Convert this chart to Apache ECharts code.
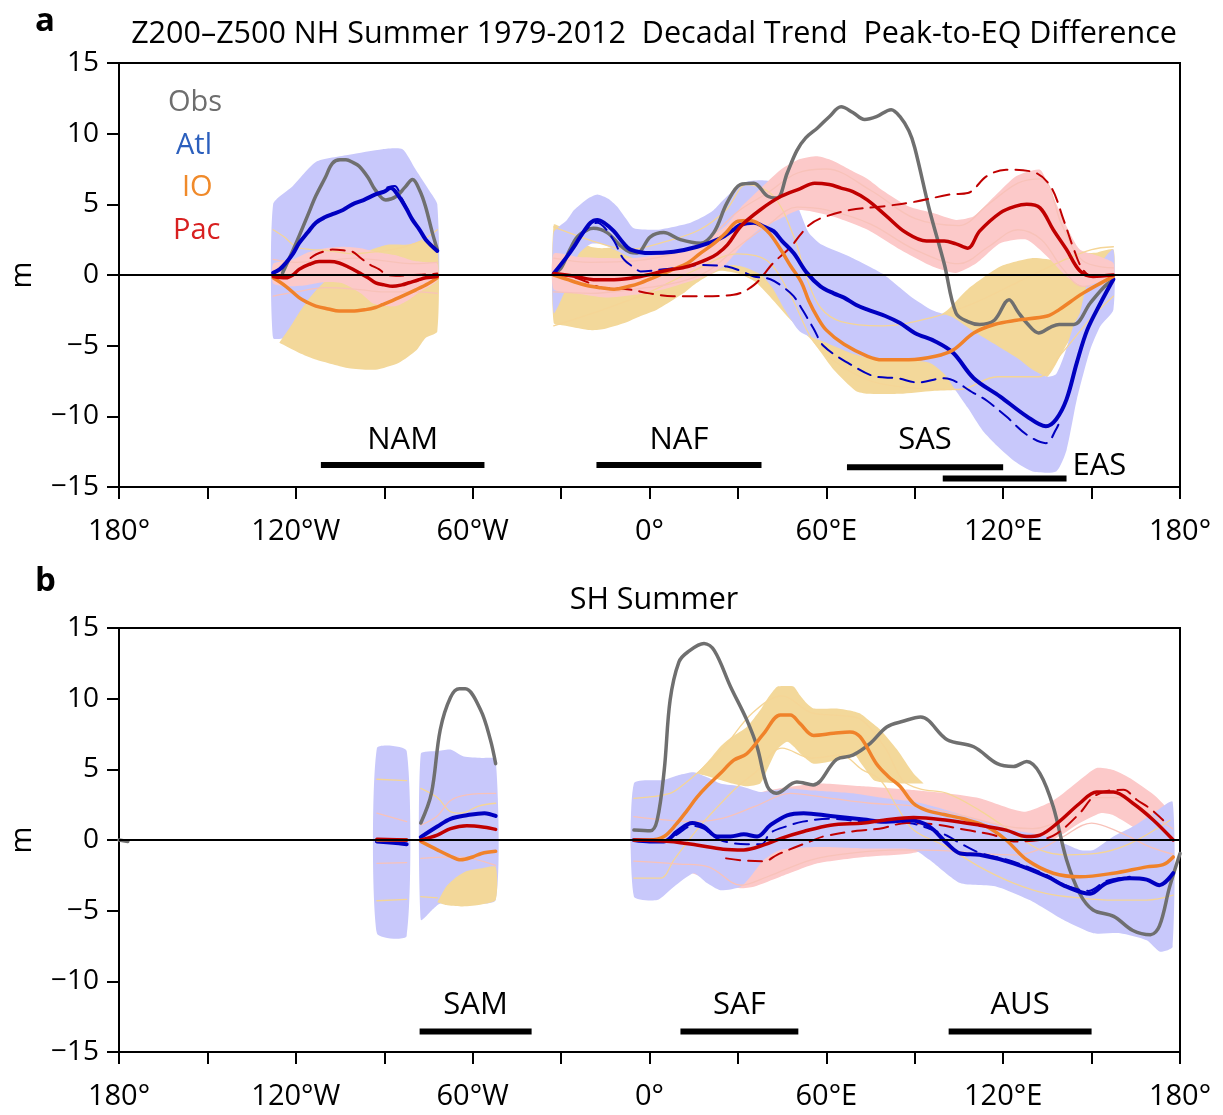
<!DOCTYPE html>
<html>
<head>
<meta charset="utf-8">
<title>Z200–Z500 decadal trend, peak-to-EQ difference</title>
<script src="https://cdn.jsdelivr.net/npm/echarts@6/dist/echarts.min.js"></script>
<style>
  html, body { margin: 0; padding: 0; background: #fff; }
  #chart { width: 1223px; height: 1115px; }
</style>
</head>
<body>
<div id="chart"></div>
<script>
// ---------- data (lon in degrees, value in m) ----------
const xTickLabels = { '-180': '180°', '-120': '120°W', '-60': '60°W', '0': '0°', '60': '60°E', '120': '120°E', '180': '180°' };
const yTicks = [-15, -10, -5, 0, 5, 10, 15];

// panel a: NH summer  (each entry is one continuous piece of the curve)
const obsA = [
  [[-124.5,0.15],[-121.5,1.5],[-118.9,2.75],[-116,4.2],[-113.2,5.6],[-110,6.9],[-107.6,7.9],[-105,8.15],[-103,8.15],[-100.5,7.95],[-98.5,7.7],[-95.5,6.9],[-93,6.0],[-89.5,5.3],[-86,5.55],[-83,6.2],[-80.4,6.75],[-78,6.0],[-76,4.85],[-73.7,3.0],[-72,1.8]],
  [[-32.5,0.1],[-30,0.5],[-27,1.8],[-24.5,2.7],[-21,3.2],[-19,3.3],[-14.4,3.0],[-10,2.1],[-6.5,1.6],[-4.2,1.55],[0.3,2.7],[4.8,3.0],[10.5,2.5],[17.3,2.25],[21.8,3.0],[26.3,5.1],[30.8,6.4],[35.4,6.5],[39.9,5.6],[43.3,5.45],[46.7,7.2],[50,8.8],[53,9.7],[57,10.4],[61,11.2],[65,11.9],[69,11.5],[73,11.0],[77,11.2],[82,11.7],[85,11.2],[88,10.2],[90,9.0],[95,4.6],[100,0.8],[104,-2.7],[108,-3.3],[112,-3.5],[117,-3.2],[122,-1.75],[125,-2.6],[128,-3.4],[132,-4.1],[136,-3.7],[139,-3.5],[144,-3.5],[149.5,-2.0],[154,-0.9],[157.4,-0.3]]
];
const atlA = [
  [[-127.7,0.15],[-125.5,0.4],[-123.4,0.85],[-121,1.5],[-118.9,2.25],[-116,3.0],[-113.2,3.7],[-110,4.1],[-107.6,4.3],[-104,4.6],[-100.8,5.0],[-97,5.3],[-93,5.7],[-90,5.9],[-87.8,6.15],[-85,5.55],[-82.5,4.7],[-80.4,3.9],[-78,3.2],[-75.9,2.5],[-72,1.7]],
  [[-32.5,0.1],[-28,1.3],[-25.6,2.0],[-23.5,2.7],[-20,3.7],[-17.7,3.9],[-15.5,3.7],[-12.1,3.1],[-9,2.3],[-6.4,1.8],[0.3,1.55],[8.2,1.65],[16.2,2.0],[24.1,2.6],[28.5,3.2],[30.8,3.55],[35.4,3.7],[39,3.4],[42.1,3.1],[45,2.4],[48.9,1.55],[53.4,0.15],[58,-0.8],[62.5,-1.3],[66,-1.6],[70,-2.1],[74,-2.45],[80,-2.9],[85,-3.4],[90,-4.1],[97,-4.7],[103,-5.5],[110,-7.3],[119,-8.6],[128,-10.0],[134.5,-10.7],[138,-10.2],[141.5,-8.8],[145,-6.2],[148.5,-3.9],[153,-2.0],[157.4,-0.3]]
];
const atlDashA = [
  [[-89,6.2],[-86.5,6.3],[-84,5.4],[-81,4.2]],
  [[-32.5,0.1],[-28,1.3],[-23.5,2.7],[-20,3.5],[-17.7,3.7],[-15,3.3],[-12,2.4],[-8.7,1.1],[-5,0.5],[-3,0.25],[4.8,0.4],[10.5,0.55],[17.3,0.7],[26.3,0.6],[32,0.2],[35.4,-0.1],[41,-0.3],[45,-0.8],[48.9,-1.5],[52,-2.5],[55.7,-3.8],[59,-5.0],[68,-6.3],[77,-7.2],[84,-7.3],[91,-7.6],[100,-7.3],[110,-8.35],[114.5,-8.9],[121,-10.0],[128,-11.3],[134.5,-11.9],[138,-10.9],[139.5,-10.2]]
];
const ioA = [
  [[-127.7,-0.2],[-123.4,-0.8],[-118.9,-1.6],[-116,-1.95],[-113.2,-2.2],[-109,-2.4],[-105.3,-2.55],[-101,-2.55],[-96.3,-2.45],[-93,-2.3],[-90.6,-2.1],[-85,-1.6],[-79.3,-1.05],[-75,-0.6],[-72,-0.2]],
  [[-32.5,0],[-28,-0.3],[-24.5,-0.55],[-20,-0.8],[-16.5,-0.9],[-12,-1.0],[-7,-0.8],[-3,-0.55],[3.5,0],[8,0.4],[13,0.85],[17,1.5],[22,2.25],[26,3.0],[30,3.8],[34,3.85],[40,3.1],[44.5,1.8],[48,0.6],[51.5,-0.5],[54,-1.8],[57,-3.0],[60,-3.9],[66,-4.9],[74,-5.75],[79,-6.0],[88,-6.0],[97,-5.75],[103,-5.3],[110,-4.1],[117,-3.5],[124.5,-3.2],[135,-2.9],[139,-2.45],[147,-1.3],[157.4,-0.1]]
];
const pacA = [
  [[-127.7,-0.1],[-123.4,-0.2],[-121,0.0],[-118.9,0.4],[-115.5,0.75],[-112.1,0.95],[-108.5,0.95],[-105.3,0.85],[-102,0.55],[-98.5,0.15],[-95.5,-0.2],[-92.9,-0.55],[-90,-0.7],[-87.2,-0.8],[-84,-0.7],[-81.6,-0.55],[-78.5,-0.35],[-75.9,-0.2],[-72,-0.1]],
  [[-32.5,0.1],[-25,-0.1],[-19,-0.33],[-12,-0.33],[-3,-0.1],[6,0.33],[13,0.6],[19.5,1.1],[23,1.5],[26.5,2.15],[31,3.45],[37.5,4.6],[44.5,5.55],[51,6.1],[56,6.5],[61,6.4],[65,6.15],[69,5.9],[74,5.3],[80.5,4.15],[87,3.0],[94,2.4],[100,2.4],[104,2.2],[108,1.9],[112,3.1],[119,4.4],[124,4.85],[128,5.0],[132.5,4.75],[137,3.2],[141.5,1.8],[146,0.3],[150.5,-0.1],[157.4,0]]
];
const pacDashA = [
  [[-115,1.2],[-113.2,1.45],[-110,1.7],[-107.6,1.8],[-104,1.75],[-100.8,1.65],[-98,1.2],[-95,0.75],[-91.7,0.4],[-89.5,0.05],[-86,-0.05],[-80,0.0],[-75,0.05],[-72,0.1]],
  [[-32.5,0.1],[-25,-0.2],[-20,-0.6],[-16.5,-0.9],[-7.5,-1.0],[0,-1.3],[8,-1.5],[17,-1.5],[28.5,-1.4],[35.5,-0.7],[42,0.85],[48,2.0],[51,2.8],[54,3.5],[58,4.0],[68,4.6],[79,4.85],[90.5,5.2],[102,5.7],[108,5.8],[114.5,7.0],[121,7.45],[130,7.3],[136,6.3],[140.5,3.9],[144,1.8],[147,0.4],[150.5,-0.1],[157.4,0]]
];
// spreads: upper and lower edges of each shaded range
const atlSpreadA = [
  { hi: [[-127.7,5.0],[-121,6.3],[-113.2,8.0],[-101.9,8.5],[-90.6,8.9],[-83.8,8.9],[-79.3,7.45],[-74.8,6.0],[-72,5.0]],
    lo: [[-127.7,-4.45],[-123,-4.4],[-110,-3.0],[-95,-2.0],[-80,-1.8],[-72,-1.75]] },
  { hi: [[-32.5,3.0],[-28,3.9],[-25.6,4.6],[-21,5.4],[-17.7,5.7],[-14,5.4],[-11,4.85],[-8,4.0],[-5.3,3.3],[2.6,3.2],[8,3.4],[13.9,3.7],[18,4.1],[21.8,4.6],[25,5.3],[28.6,6.0],[33.1,6.6],[38,6.7],[42.1,6.6],[46,6.3],[49,5.5],[51,4.5],[54,3.0],[58,2.2],[68,1.3],[79,0.1],[88.5,-1.5],[96,-2.5],[103,-3.0],[110,-4.0],[118,-5.0],[125,-5.9],[130,-6.7],[135,-7.2],[138,-7.0],[141,-5.5],[144,-3.5],[146,-2.7],[148.5,-0.6],[153,0.85],[157.4,1.8]],
    lo: [[-32.5,-2.7],[-28,-0.8],[-24,1.5],[-20,2.2],[-16,2.2],[-12,1.8],[-8,1.4],[-2,0.9],[5,0.5],[12,0.2],[18,0.1],[23,0.4],[28,0.7],[33,0.5],[38,0.0],[42,-1.0],[46,-2.5],[51,-4.0],[60,-4.8],[68,-5.5],[75,-5.9],[85,-6.0],[95,-6.2],[100,-7.0],[104,-8.2],[108,-9.4],[113,-11.0],[118,-12.1],[124,-13.2],[130,-13.9],[138,-13.9],[141.5,-12.4],[145,-8.8],[149.5,-5.3],[153,-3.6],[157.4,-2.45]] }
];
const ioSpreadA = [
  { hi: [[-125.6,-4.8],[-122,-3.7],[-119,-2.7],[-116,-1.8],[-113,-1.05],[-110,-0.4],[-107.5,0.15],[-104,0.7],[-101,1.2],[-97,1.6],[-93,1.9],[-88.4,2.15],[-81.6,2.15],[-77,2.4],[-72,2.0]],
    lo: [[-125.6,-4.8],[-119,-5.5],[-113,-6.0],[-102,-6.6],[-93,-6.7],[-85,-6.2],[-79,-5.3],[-76,-4.45],[-72,-4.0]] },
  { hi: [[-32.5,3.55],[-28,3.1],[-24,2.4],[-20,2.0],[-16,1.9],[-10,2.0],[0,2.4],[10,3.2],[18,4.0],[24,4.4],[28,4.8],[33,5.0],[38,4.4],[43,3.0],[48,0.5],[51,-1.5],[60,-2.5],[70,-3.0],[80,-3.2],[90,-3.2],[97,-3.0],[101,-2.5],[108,-1.0],[119,0.6],[130,1.2],[139,1.05],[146,1.5],[152,1.6],[157.4,1.8]],
    lo: [[-32.5,-3.4],[-28,-3.6],[-20,-3.9],[-15,-3.8],[-8.5,-3.4],[-3,-2.9],[2.5,-2.45],[7,-1.9],[11.5,-1.3],[15,-0.7],[19.5,-0.1],[24,0.3],[30,0.1],[36,-0.5],[42,-1.8],[48,-3.2],[55,-4.6],[62.5,-6.7],[70,-8.2],[74,-8.4],[85,-8.4],[96,-8.2],[104,-8.1],[110,-7.5],[121,-7.05],[130,-6.8],[135,-7.2],[140.5,-5.3],[146,-3.4],[153,-1.0],[157.4,-0.1]] }
];
const pacSpreadA = [
  { hi: [[-127.7,0.8],[-122,1.0],[-116,1.6],[-110,1.9],[-104,2.0],[-98,1.9],[-92,1.6],[-86,1.4],[-80,1.0],[-76,0.9],[-72,0.8]],
    lo: [[-127.7,-0.6],[-122,-0.8],[-116,-0.7],[-110,-0.5],[-104,-0.6],[-98,-1.3],[-94,-2.0],[-90,-2.2],[-86,-2.2],[-82,-1.8],[-78,-1.2],[-72,-0.4]] },
  { hi: [[-32.5,1.5],[-25,1.3],[-15,1.2],[-5,1.2],[5,1.5],[13,1.9],[20,2.6],[26,3.5],[31,4.8],[37,6.0],[44.5,7.45],[51,8.2],[57,8.4],[62,8.1],[68,7.45],[74,6.8],[79,6.0],[88,4.85],[96,4.4],[104,3.9],[110,4.15],[117,5.55],[124.5,7.0],[132.5,7.45],[136,6.0],[141.5,3.45],[146,1.8],[153,1.3],[157.4,0.85]],
    lo: [[-32.5,-1.0],[-25,-1.3],[-15,-1.6],[-5,-1.4],[5,-1.0],[13,-0.5],[20,0.0],[26,0.8],[31,2.0],[37,3.2],[44.5,4.0],[51,4.6],[62,4.15],[74,3.2],[85,1.8],[96,0.6],[104,0.15],[111,0.85],[119,2.25],[128,2.5],[135,1.3],[141.5,-0.1],[147,-0.8],[152,-0.55],[157.4,-0.33]] }
];
// thin pale member curves
const ioThinA = [
  [[-127.7,3.2],[-124,2.7],[-120,2.0],[-115,1.8],[-110,1.75],[-105,1.6],[-100,1.5],[-95,1.6],[-90,1.7],[-85,1.9],[-80,2.2],[-76,2.6],[-72,3.2]],
  [[-32.5,3.4],[-30,3.2],[-17,2.25],[-7.5,1.8],[6,2.4],[17,3.2],[26,4.6],[33,6.4],[42,5.6],[49,2.7],[53.5,-0.3],[58,-2.3],[65,-3.3],[79,-3.6],[96,-3.0],[110,-2.0],[125,-0.5],[140,1.0],[150,1.8],[157.4,2.0]],
  [[-32.5,-3.6],[-15,-2.4],[0,-1.2],[15,0.3],[30,1.5],[40,1.0],[48,-1.5],[55,-4.5],[62,-6.0],[75,-7.5],[90,-8.0],[105,-8.1],[118,-7.2],[132,-7.2],[140,-5.5],[150,-3.0],[157.4,-1.5]]
];
const pacThinA = [
  [[-127.7,1.1],[-120,0.9],[-110,1.0],[-100,1.2],[-90,1.0],[-80,0.8],[-72,0.9]],
  [[-127.7,-1.5],[-120,-1.2],[-110,-0.9],[-100,-1.0],[-90,-1.2],[-80,-1.2],[-72,-1.3]],
  [[-32.5,1.2],[-20,0.9],[-5,1.0],[10,1.6],[20,2.6],[30,4.5],[40,5.8],[50,7.2],[60,7.5],[75,6.0],[90,4.0],[105,3.5],[115,5.0],[125,6.5],[133,6.8],[140,3.5],[147,1.0],[157.4,0.5]],
  [[-32.5,-1.2],[-20,-1.3],[-5,-1.0],[10,-0.5],[20,0.3],[30,2.0],[40,3.5],[50,4.8],[60,4.6],[75,3.6],[90,1.8],[105,0.8],[115,2.0],[125,3.2],[133,2.5],[140,0.5],[147,-0.8],[157.4,-0.6]]
];

// panel b: SH summer
const obsB = [
  [[-180,0],[-177,-0.1]],
  [[-77.6,1.2],[-74,3.3],[-71,7.8],[-67.5,10.1],[-64.5,10.7],[-62.5,10.7],[-57.3,9.2],[-54,7.1],[-52.2,5.4]],
  [[-5.3,0.7],[0.3,0.65],[2.6,1.4],[5,4.95],[7,9.9],[10,12.6],[13,13.3],[18.5,13.9],[22,13.4],[27.5,10.85],[33,8.5],[36.5,6.6],[40,3.8],[43,3.3],[50,4.1],[55.5,3.9],[63.5,5.7],[69,6.0],[75,6.85],[80.5,8.0],[86,8.4],[92,8.7],[101,7.1],[110,6.6],[118,5.4],[123.5,5.2],[128,5.55],[132.5,4.7],[137,2.35],[141.5,-1.4],[146,-3.8],[150.5,-4.95],[157.5,-5.4],[164,-6.4],[170,-6.7],[173,-6.1],[176.5,-3.3],[180,-0.95]]
];
const atlB = [
  [[-92.5,-0.1],[-87,-0.2],[-82.4,-0.3]],
  [[-77.6,0.2],[-72,0.95],[-67.5,1.5],[-62,1.75],[-56,1.9],[-52.2,1.7]],
  [[-5.3,0],[0,-0.1],[4.9,-0.1],[9.4,0.6],[14.5,1.2],[18.4,0.95],[23,0.25],[27.5,0.25],[32,0.4],[36.5,0.25],[41,1.05],[46.7,1.75],[52.3,1.9],[61.4,1.7],[72.7,1.45],[79.4,1.3],[88.5,1.4],[95,0.95],[101,-0.25],[105.5,-0.95],[112,-1.05],[123.5,-1.65],[135,-2.6],[141.5,-3.3],[149.5,-3.8],[155,-3.05],[163,-2.7],[168.7,-2.8],[173,-3.2],[177.7,-2.35]]
];
const atlDashB = [
  [[-5.3,0],[5,-0.1],[9.4,0.4],[14.5,1.0],[18.4,0.8],[23,0.1],[27.5,-0.2],[33,-0.3],[38,-0.3],[41,0.5],[47,1.0],[52,1.3],[61,1.5],[73,1.3],[88,1.2],[95,0.8],[101,0.3],[106,-0.3],[112,-0.9],[123,-1.5],[135,-2.5],[141,-3.2],[149,-3.6],[155,-2.9],[163,-2.6]]
];
const ioB = [
  [[-92.5,0],[-82.4,0]],
  [[-77.6,-0.1],[-72,-0.7],[-68,-1.1],[-64,-1.4],[-60,-1.2],[-57,-0.95],[-52.2,-0.8]],
  [[-5.3,0],[0,0],[4.9,0.25],[9,1.1],[12.8,2.1],[16,3.0],[19.5,3.8],[24,4.7],[28.6,5.65],[33,6.1],[38.8,7.55],[44.4,8.85],[47.8,8.85],[51,8.25],[55.7,7.4],[62.5,7.55],[68,7.65],[71.5,7.3],[77,5.4],[81,4.5],[85,3.8],[89.5,2.6],[94,2.1],[100,1.8],[106.5,1.5],[114.5,0.95],[121,0],[128,-1.4],[137,-2.35],[146,-2.6],[157.4,-2.35],[168.7,-1.9],[174.3,-1.75],[177.7,-1.2]]
];
const pacB = [
  [[-92.5,0.05],[-82.4,0]],
  [[-77.6,0],[-72,0.35],[-67.5,0.8],[-62,1.0],[-56,0.9],[-52.2,0.75]],
  [[-5.3,0],[7,-0.1],[16,-0.35],[25,-0.65],[32,-0.7],[38.8,-0.35],[44.4,0.1],[52.3,0.6],[61.4,1.05],[72.7,1.2],[79.4,1.4],[89.6,1.6],[101,1.4],[112,1.05],[121,0.7],[128,0.25],[132.5,0.35],[139,1.3],[146,2.6],[151.7,3.4],[157.4,3.4],[164,2.6],[171,1.4],[177.7,0]]
];
const pacDashB = [
  [[26,-1.3],[32,-1.45],[39,-1.5],[43.3,-1.05],[49,-0.55],[54.6,-0.1],[59,0.25],[70.4,0.65],[78,0.8],[87.3,1.2],[97,1.1],[107.7,0.7],[116.7,0.35],[123.5,-0.1],[132.5,0],[138.2,0.45],[146,1.9],[150.6,3.05],[156,3.5],[160.8,3.55],[165.3,2.85],[170,2.2],[174.3,1.4]]
];
const atlSpreadB = [
  { hi: [[-92.5,6.5],[-82.4,6.3]], lo: [[-92.5,-6.6],[-82.4,-6.8]] },
  { hi: [[-77.6,6.1],[-72,6.3],[-67.5,6.4],[-63,5.9],[-57,5.8],[-52.2,5.7]],
    lo: [[-77.6,-5.65],[-74,-5.0],[-71,-4.5],[-64,-4.5],[-52.2,-4.25]] },
  { hi: [[-5.3,4.0],[4.9,4.25],[10,4.6],[15,4.8],[20,4.4],[24,4.0],[31,3.8],[37.6,3.4],[46.7,3.65],[55.7,3.5],[69,3.3],[80,2.95],[90,2.7],[101,2.1],[112,1.4],[123.5,0.7],[135,0.25],[146,-0.7],[150.6,-0.7],[157.4,0.25],[164,0.95],[171,1.9],[177.5,2.7]],
    lo: [[-5.3,-4.0],[2.6,-4.25],[8.3,-3.3],[15,-2.35],[19.5,-3.05],[24,-3.55],[31,-3.3],[35,-2.4],[38.8,-1.4],[44.4,-0.7],[57,-0.5],[72.7,-0.6],[85,-0.6],[90,-0.7],[95,-1.4],[105.4,-3.05],[117.8,-3.3],[129,-4.25],[140.4,-5.65],[150.6,-6.6],[159.7,-6.6],[168.7,-7.1],[173.2,-7.9],[177.5,-7.55]] }
];
const ioSpreadB = [
  { hi: [[-72,-4.4],[-69,-3.3],[-66,-2.7],[-62,-2.2],[-57,-2.0],[-52.2,-1.9]],
    lo: [[-72,-4.4],[-69,-4.6],[-64,-4.7],[-58,-4.6],[-52.2,-4.25]] },
  { hi: [[16,4.7],[20,5.6],[24,6.6],[28,7.3],[33,8.0],[37.6,9.2],[40,10.0],[43.3,10.85],[46.7,10.9],[49,10.85],[51.2,10.2],[53.4,9.65],[55.7,9.3],[63.6,9.3],[69.3,9.1],[71.5,8.95],[76,8.2],[78.3,7.8],[84,6.4],[89.6,4.7],[93,4.0]],
    lo: [[16,4.7],[20,4.5],[24,4.25],[28,4.0],[33,3.8],[37.6,4.0],[40,5.0],[43.3,6.4],[46.7,6.95],[49,6.6],[51.2,6.1],[53.4,5.7],[55.7,5.4],[63.6,5.65],[69.3,6.1],[71.5,5.5],[76,4.25],[78.3,4.1],[84,4.0],[89.6,4.0],[93,4.0]] }
];
const pacSpreadB = [
  { hi: [[-5.3,1.5],[10,1.5],[20,2.0],[30,2.8],[40,3.5],[56.8,4.0],[72.7,3.8],[88.5,3.55],[101,3.3],[112,2.95],[127,2.0],[137,2.8],[146,4.25],[151.7,5.1],[157.4,4.95],[164,4.25],[172,3.05],[177.5,1.65]],
    lo: [[-5.3,-1.5],[10,-2.0],[20,-2.8],[30,-3.4],[35.4,-3.3],[44.4,-2.6],[57,-1.65],[72.7,-1.2],[88.5,-0.95],[101,-0.35],[112,-0.25],[127,-0.7],[137,0],[146,1.2],[153,1.9],[157.4,1.75],[166.4,0.6],[174.3,-0.7],[177.5,-1.2]] }
];
const ioThinB = [
  [[-92.5,4.3],[-82.4,4.2]], [[-92.5,-4.3],[-82.4,-4.2]],
  [[-77.6,3.65],[-72,3.0],[-67.5,2.0],[-64,1.9],[-58,2.4],[-52.2,2.6]], [[-77.6,-4.0],[-72,-4.1]],
  [[-5.3,2.95],[7,3.3],[12,4.0],[16,4.7],[25,6.5],[35,9.0],[45,10.2],[55,9.0],[65,8.8],[72,8.5],[80,6.5],[86,4.2],[92,3.6],[101,3.3],[112,2.1],[123.5,0.5],[132.5,-0.7],[141.6,-1.05],[151.7,-0.95],[163,-0.25],[176.6,1.4]],
  [[-5.3,-2.7],[3.7,-2.7],[8.3,-1.4],[16,0.7],[22,2.1],[30,3.8],[36,4.8],[45,6.5],[55,5.8],[65,6.0],[72,5.0],[78.3,4.25],[84,2.35],[89.6,0.7],[101,-0.5],[112,-1.9],[123.5,-3.05],[134.8,-3.8],[146,-4.1],[157.4,-4.25],[168.7,-4.25],[177.7,-3.9]]
];
const pacThinB = [
  [[-92.5,1.9],[-82.4,1.3]], [[-92.5,-1.65],[-82.4,-1.6]],
  [[-77.6,1.05],[-72,1.7],[-67.5,2.8],[-62,3.2],[-52.2,3.3]], [[-77.6,-1.3],[-65,-1.2],[-52.2,-1.8]],
  [[-5.3,1.65],[16,1.3],[25,1.55],[36,2.4],[47.8,3.3],[60,3.0],[75,2.6],[90,2.4],[105,1.8],[120,1.0],[130,0.8],[140,1.5],[150,3.0],[160,3.0],[170,1.8],[177.5,0.8]],
  [[-5.3,-1.5],[10,-1.7],[20,-1.9],[31,-3.2],[40,-2.6],[55,-1.4],[70,-0.9],[85,-0.7],[100,-0.75],[115,-1.0],[125,-1.05],[133,-0.6],[140,0.2],[150,1.2],[160,0.5],[170,-0.5],[177.5,-1.0]]
];

// regions: name, west lon, east lon
const regionsA = [['NAM', -111.5, -56], ['NAF', -18, 38], ['SAS', 67, 120], ['EAS', 99.5, 141.5]];
const regionsB = [['SAM', -78, -40], ['SAF', 10.5, 50.5], ['AUS', 101.5, 150]];

// ---------- styling ----------
const FONT = '"Open Sans", "Noto Sans", sans-serif';
const C = {
  obs: '#6f6f6f', atl: '#0000c0', io: '#f0822a', pac: '#c00000',
  atlBand: '#c8c8fb', ioBand: '#f3d89a', pacBand: '#fcc9c9',
  ioThin: '#f5d596', pacThin: '#f8c2b9'
};
const barLevel = { NAM: -13.45, NAF: -13.45, SAS: -13.6, EAS: -14.4, SAM: -13.55, SAF: -13.55, AUS: -13.55 };
const labelLevel = -11.7;

function lines(idx, segs, color, width, dashed, z) {
  return segs.map(seg => ({
    type: 'line', xAxisIndex: idx, yAxisIndex: idx, data: seg, silent: true,
    symbol: 'none', smooth: 0.35, z: z,
    lineStyle: { color: color, width: width, type: dashed ? [14, 8] : 'solid', cap: 'round', join: 'round' }
  }));
}
function band(idx, sp, color, z) {
  const pts = sp.hi.concat(sp.lo.slice().reverse());
  return {
    type: 'custom', xAxisIndex: idx, yAxisIndex: idx, silent: true, z: z,
    data: pts, encode: { x: 0, y: 1 },
    renderItem: (params, api) => {
      if (params.dataIndex !== 0) return null;
      return { type: 'polygon', shape: { points: pts.map(p => api.coord(p)), smooth: 0.2 }, style: { fill: color } };
    }
  };
}
function regionBars(idx, regions) {
  const out = [];
  regions.forEach(([name, w, e]) => {
    const y = barLevel[name];
    const right = name === 'EAS';
    out.push({
      type: 'line', xAxisIndex: idx, yAxisIndex: idx, silent: true, z: 5, symbol: 'none',
      data: [[w, y], [e, y]], lineStyle: { color: '#000', width: 6, cap: 'butt' },
      endLabel: right ? { show: true, formatter: name, color: '#000', fontSize: 31, fontFamily: FONT, distance: 6, offset: [0, -12] } : { show: false }
    });
    if (!right) {
      out.push({
        type: 'scatter', xAxisIndex: idx, yAxisIndex: idx, silent: true, z: 5, symbolSize: 0,
        itemStyle: { opacity: 1 },
        data: [[(w + e) / 2, labelLevel]],
        label: { show: true, position: 'inside', formatter: name, color: '#000', opacity: 1, fontSize: 31, fontFamily: FONT }
      });
    }
  });
  return out;
}
function zeroLine(idx) {
  return {
    type: 'line', xAxisIndex: idx, yAxisIndex: idx, silent: true, symbol: 'none', z: 20,
    data: [[-180, 0], [180, 0]], lineStyle: { color: '#000', width: 2 }
  };
}

const xAxisBase = idx => ({
  type: 'value', gridIndex: idx, min: -180, max: 180, interval: 30,
  axisLine: { onZero: false, lineStyle: { color: '#000', width: 2 } },
  axisTick: { length: 12, lineStyle: { color: '#000', width: 2 } },
  axisLabel: { color: '#000', fontSize: 29, fontFamily: FONT, margin: 30, formatter: v => xTickLabels[String(v)] || '' },
  splitLine: { show: false }
});
const yAxisBase = idx => ({
  type: 'value', gridIndex: idx, min: -15, max: 15, interval: 5,
  name: 'm', nameLocation: 'middle', nameGap: 82, nameRotate: 90,
  nameTextStyle: { color: '#000', fontSize: 29, fontFamily: FONT },
  axisLine: { show: true, onZero: false, lineStyle: { color: '#000', width: 2 } },
  axisTick: { show: true, length: 12, lineStyle: { color: '#000', width: 2 } },
  axisLabel: { color: '#000', fontSize: 28, fontFamily: FONT, margin: 20,
    formatter: v => yTicks.includes(v) ? (v < 0 ? '\u2212' + (-v) : String(v)) : '' },
  splitLine: { show: false }
});

const series = [].concat(
  // panel a: spread order blue -> tan -> pink (NAM), tan -> blue -> pink (main)
  band(0, atlSpreadA[0], C.atlBand, 1), band(0, ioSpreadA[0], C.ioBand, 1), band(0, pacSpreadA[0], C.pacBand, 1),
  band(0, ioSpreadA[1], C.ioBand, 1), band(0, atlSpreadA[1], C.atlBand, 1), band(0, pacSpreadA[1], C.pacBand, 1),
  lines(0, ioThinA, C.ioThin, 1.3, false, 2), lines(0, pacThinA, C.pacThin, 1.3, false, 2),
  lines(0, obsA, C.obs, 3.5, false, 3),
  lines(0, atlDashA, C.atl, 2, true, 3), lines(0, pacDashA, C.pac, 2, true, 3),
  lines(0, atlA, C.atl, 4, false, 4), lines(0, ioA, C.io, 3.5, false, 4), lines(0, pacA, C.pac, 3.5, false, 4),
  regionBars(0, regionsA), zeroLine(0),
  // panel b: pink -> blue -> tan
  band(1, pacSpreadB[0], C.pacBand, 1),
  band(1, atlSpreadB[0], C.atlBand, 1), band(1, atlSpreadB[1], C.atlBand, 1), band(1, atlSpreadB[2], C.atlBand, 1),
  band(1, ioSpreadB[0], C.ioBand, 1), band(1, ioSpreadB[1], C.ioBand, 1),
  lines(1, ioThinB, C.ioThin, 1.3, false, 2), lines(1, pacThinB, C.pacThin, 1.3, false, 2),
  lines(1, obsB, C.obs, 3.5, false, 3),
  lines(1, atlDashB, C.atl, 2, true, 3), lines(1, pacDashB, C.pac, 2, true, 3),
  lines(1, atlB, C.atl, 4, false, 4), lines(1, ioB, C.io, 3.5, false, 4), lines(1, pacB, C.pac, 3.5, false, 4),
  regionBars(1, regionsB), zeroLine(1)
);

const chart = echarts.init(document.getElementById('chart'), null, { renderer: 'canvas' });
chart.setOption({
  backgroundColor: '#fff',
  animation: false,
  title: [
    { text: 'a', left: 30, top: 0, textStyle: { fontSize: 33, fontWeight: 'bold', fontFamily: FONT, color: '#000' } },
    { text: 'Z200–Z500 NH Summer 1979-2012  Decadal Trend  Peak-to-EQ Difference', left: 649, top: 14, textAlign: 'center',
      textStyle: { fontSize: 30.5, fontWeight: 'normal', fontFamily: FONT, color: '#000' } },
    { text: 'b', left: 30, top: 560, textStyle: { fontSize: 33, fontWeight: 'bold', fontFamily: FONT, color: '#000' } },
    { text: 'SH Summer', left: 649, top: 580, textAlign: 'center',
      textStyle: { fontSize: 30.5, fontWeight: 'normal', fontFamily: FONT, color: '#000' } }
  ],
  graphic: [
    { type: 'text', left: 168, top: 88, style: { text: 'Obs', fill: '#6e6e6e', font: '29px ' + FONT } },
    { type: 'text', left: 176, top: 131, style: { text: 'Atl', fill: '#2b5fbd', font: '29px ' + FONT } },
    { type: 'text', left: 182, top: 173, style: { text: 'IO', fill: '#f08a2a', font: '29px ' + FONT } },
    { type: 'text', left: 173, top: 216, style: { text: 'Pac', fill: '#d82020', font: '29px ' + FONT } }
  ],
  grid: [
    { left: 118, top: 63, width: 1062, height: 424, show: true, borderColor: '#000', borderWidth: 2, backgroundColor: 'transparent' },
    { left: 118, top: 628, width: 1062, height: 424, show: true, borderColor: '#000', borderWidth: 2, backgroundColor: 'transparent' }
  ],
  xAxis: [xAxisBase(0), xAxisBase(1)],
  yAxis: [yAxisBase(0), yAxisBase(1)],
  series: series
});
</script>
</body>
</html>
